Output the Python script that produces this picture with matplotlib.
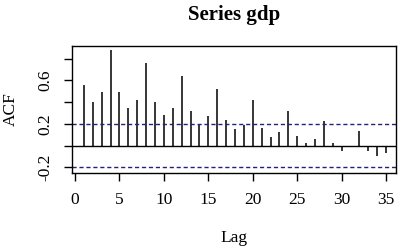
import numpy as np
import matplotlib.pyplot as plt

plt.rcParams['font.family'] = ['Liberation Serif', 'DejaVu Serif']

# autocorrelation of gdp, lags 1..35
lags = list(range(1, 36))
acf = [0.557, 0.403, 0.495, 0.88, 0.489, 0.348, 0.418, 0.76, 0.403, 0.277,
       0.348, 0.637, 0.32, 0.20, 0.271, 0.52, 0.237, 0.148, 0.188, 0.418,
       0.166, 0.083, 0.129, 0.32, 0.092, 0.022, 0.058, 0.225, 0.022, -0.046,
       -0.005, 0.138, -0.046, -0.095, -0.071]
ci = 0.2
yticks = [-0.2, 0.0, 0.2, 0.4, 0.6, 0.8]
ytick_labels = ['-0.2', '', '0.2', '', '0.6', '']
xticks = [0, 5, 10, 15, 20, 25, 30, 35]

fig = plt.figure(figsize=(4.01, 2.48), dpi=100)
ax = fig.add_axes([0.179, 0.304, 0.808, 0.512])

ax.vlines(lags, 0, acf, color='black', linewidth=1.1)
ax.axhline(0, color='black', linewidth=1.0)
ax.axhline(ci, color='#22227a', linewidth=1.0, linestyle=(0, (3, 2)))
ax.axhline(-ci, color='#22227a', linewidth=1.0, linestyle=(0, (3, 2)))

ax.set_xlim(-0.37, 36.1)
ax.set_ylim(-0.249, 0.92)

ax.set_xticks(xticks)
ax.set_yticks(yticks)
ax.set_yticklabels(ytick_labels, rotation=90, va='center')
ax.tick_params(axis='both', length=6, width=1.0, labelsize=12.5, direction='out')
ax.tick_params(axis='x', pad=8)
ax.tick_params(axis='y', pad=7)
for s in ax.spines.values():
    s.set_linewidth(1.0)

ax.set_xlabel('Lag', fontsize=12.5)
ax.xaxis.set_label_coords(0.5, -0.455)
ax.set_ylabel('ACF', fontsize=12.5)
ax.yaxis.set_label_coords(-0.163, 0.5)
ax.set_title('Series gdp', fontsize=15, fontweight='bold', y=1.2, pad=0)

fig.savefig('out.png', dpi=100)
